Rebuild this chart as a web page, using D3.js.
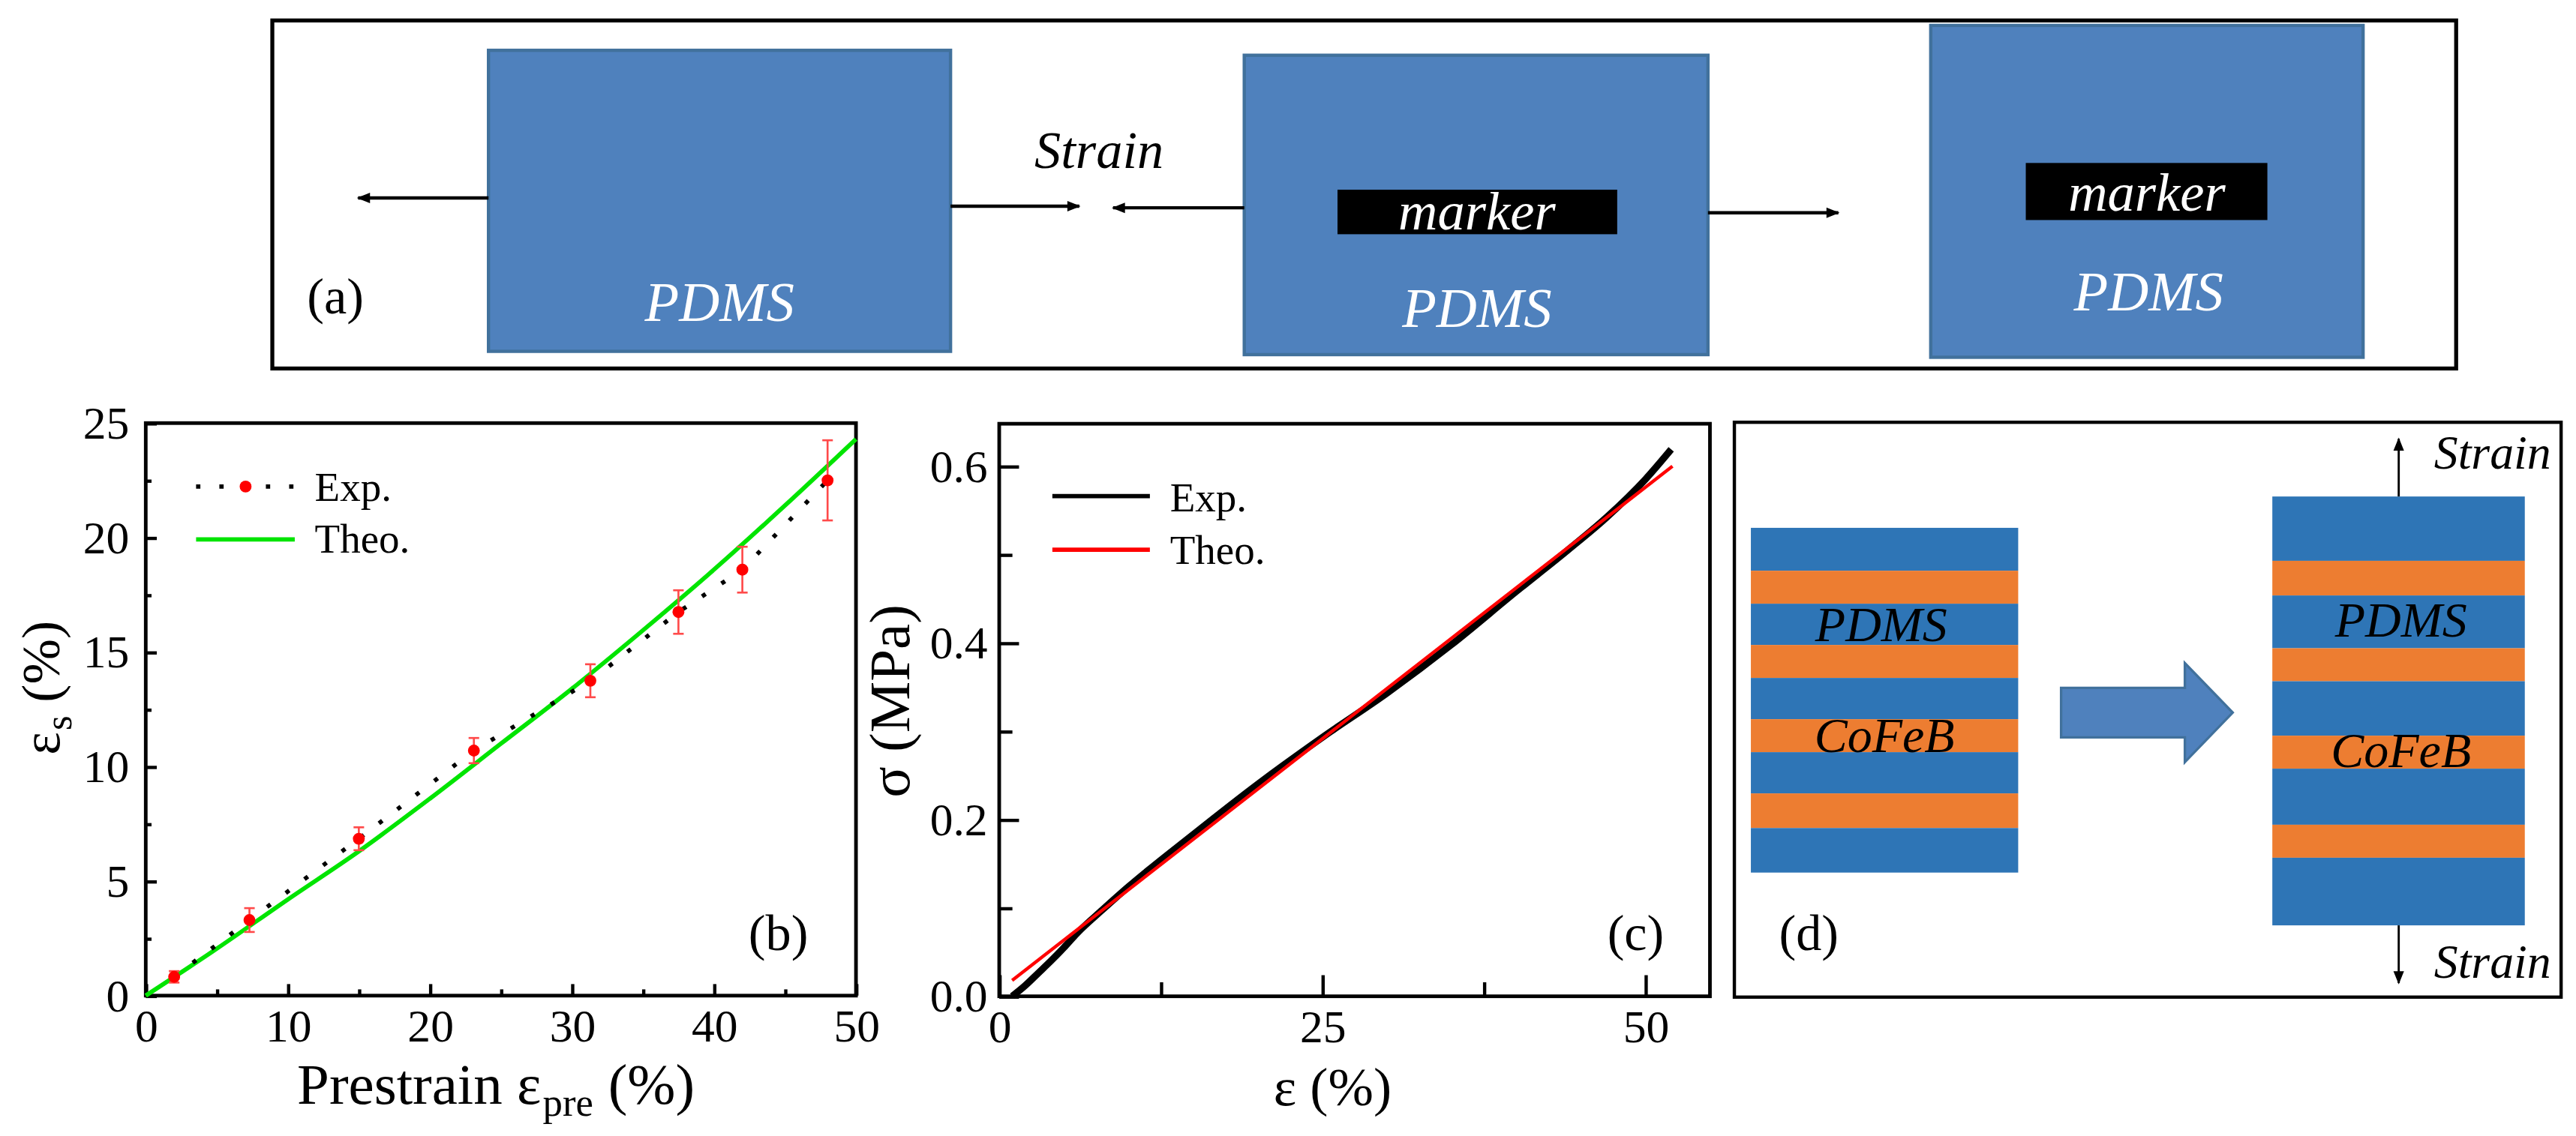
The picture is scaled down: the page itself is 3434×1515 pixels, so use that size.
<!DOCTYPE html>
<html>
<head>
<meta charset="utf-8">
<script src="https://cdn.jsdelivr.net/npm/d3@7/dist/d3.min.js"></script>
<style>
body { margin: 0; background: #fff; }
svg text { font-family: "Liberation Serif", "Times New Roman", Times, "DejaVu Serif", serif; }
</style>
</head>
<body>
<div id="graph"></div>
<script>
// (b) film strain vs prestrain
var expPre = [2, 7.3, 15, 23.1, 31.3, 37.5, 42, 48];
var expEps = [0.82, 3.3, 6.85, 10.7, 13.75, 16.75, 18.6, 22.5];
var expErr = [0.25, 0.52, 0.5, 0.55, 0.72, 0.95, 1.0, 1.75];
var theoPre = [0, 5, 10, 15, 20, 25, 30, 35, 40, 45, 50];
var theoEps = [0, 2.05, 4.2, 6.3, 8.6, 11.0, 13.4, 15.95, 18.6, 21.4, 24.3];
var bTicksX = [0, 10, 20, 30, 40, 50];
var bMinorX = [5, 15, 25, 35, 45];
var bTicksY = [0, 5, 10, 15, 20, 25];
var bMinorY = [2.5, 7.5, 12.5, 17.5, 22.5];

// (c) stress - strain of PDMS
var expStrain = [1, 2, 3, 4, 5, 6, 8, 10, 15, 20, 25, 30, 35, 40, 44, 47, 50, 52];
var expStress = [0, 0.012, 0.026, 0.04, 0.055, 0.071, 0.098, 0.124, 0.183, 0.24, 0.293, 0.343, 0.398, 0.458, 0.505, 0.542, 0.585, 0.619];
var theoStrain = [1, 52.1];
var theoStress = [0.018, 0.6];
var cTicksX = [0, 25, 50];
var cMinorX = [12.5, 37.5];
var cTicksY = [0.0, 0.2, 0.4, 0.6];
var cMinorY = [0.1, 0.3, 0.5];

var W = 1561, H = 688.7;
var serif = "Liberation Serif, Times New Roman, Times, DejaVu Serif, serif";
var blockFill = "#4F81BD", blockLine = "#41719C";
var pdmsBlue = "#2E75B6", cofeb = "#ED7D31";

var svg = d3.select("#graph")
	.append("svg")
	.attr("width", 3434)
	.attr("height", 1515)
	.attr("viewBox", "0 0 " + W + " " + H);

var defs = svg.append("defs");
defs.append("marker")
	.attr("id", "head")
	.attr("viewBox", "0 0 10 10")
	.attr("refX", 9)
	.attr("refY", 5)
	.attr("markerWidth", 9)
	.attr("markerHeight", 8)
	.attr("markerUnits", "userSpaceOnUse")
	.attr("orient", "auto")
	.append("path")
	.attr("d", "M0,1 L10,5 L0,9 Z")
	.attr("fill", "black");

function arrow(x1, y1, x2, y2, sw) {
	svg.append("line")
		.attr("x1", x1).attr("y1", y1)
		.attr("x2", x2).attr("y2", y2)
		.attr("stroke", "black")
		.attr("stroke-width", sw)
		.attr("marker-end", "url(#head)");
}

function label(txt, x, y, size, opts) {
	opts = opts || {};
	return svg.append("text")
		.text(txt)
		.attr("x", x)
		.attr("y", y)
		.attr("font-family", serif)
		.attr("font-size", size)
		.attr("font-style", opts.italic ? "italic" : "normal")
		.attr("fill", opts.fill || "black")
		.attr("text-anchor", opts.anchor || "start");
}

// axis title built from pieces (for subscripts), centred on 0 inside a group
function title(transform, parts) {
	var g = svg.append("g");
	var inner = g.append("g");
	var cur = 0;
	parts.forEach(function(p) {
		var t = inner.append("text")
			.text(p.t)
			.attr("x", cur)
			.attr("y", p.dy || 0)
			.attr("font-family", serif)
			.attr("font-size", p.size);
		cur += t.node().getComputedTextLength() + (p.gap || 1);
	});
	inner.attr("transform", "translate(" + (-cur / 2) + ",0)");
	g.attr("transform", transform);
}

/* ---------- panel (a) ---------- */
svg.append("rect")
	.attr("x", 165).attr("y", 12.4)
	.attr("width", 1323.4).attr("height", 211)
	.attr("fill", "none")
	.attr("stroke", "black")
	.attr("stroke-width", 2.4);

var blocks = [
	{x: 296, y: 30.5, w: 280, h: 182.5},
	{x: 754, y: 33.5, w: 281, h: 181.5},
	{x: 1170, y: 15.4, w: 262, h: 201.2}
];
blocks.forEach(function(b) {
	svg.append("rect")
		.attr("x", b.x).attr("y", b.y)
		.attr("width", b.w).attr("height", b.h)
		.attr("fill", blockFill)
		.attr("stroke", blockLine)
		.attr("stroke-width", 2);
});

arrow(296, 120, 217, 120, 2);
arrow(576, 125, 654, 125, 2);
arrow(754, 126, 674.5, 126, 2);
arrow(1035, 129, 1114, 129, 2);
label("Strain", 666, 102, 32, {italic: true, anchor: "middle"});

svg.append("rect").attr("x", 810.5).attr("y", 115).attr("width", 169.5).attr("height", 27).attr("fill", "black");
svg.append("rect").attr("x", 1227.6).attr("y", 98.8).attr("width", 146.4).attr("height", 34.6).attr("fill", "black");
label("marker", 895, 139, 33, {italic: true, anchor: "middle", fill: "white"});
label("marker", 1301, 127.8, 33, {italic: true, anchor: "middle", fill: "white"});

label("PDMS", 436, 194.5, 34, {italic: true, anchor: "middle", fill: "white"});
label("PDMS", 895, 198, 34, {italic: true, anchor: "middle", fill: "white"});
label("PDMS", 1302, 188, 34, {italic: true, anchor: "middle", fill: "white"});
label("(a)", 186, 190, 31);

/* ---------- panel (b) ---------- */
var xb = d3.scaleLinear().domain([0, 50]).range([88.3, 518.7]);
var yb = d3.scaleLinear().domain([0, 25]).range([603.6, 256.5]);

function styleAxis(g) {
	g.select(".domain").remove();
	g.attr("font-family", serif).attr("font-size", 28);
	g.selectAll("line").attr("stroke", "black").attr("stroke-width", 2);
	g.selectAll("text").attr("fill", "black");
}

svg.append("g")
	.attr("transform", "translate(0," + yb(0) + ")")
	.call(d3.axisBottom(xb).tickValues(bTicksX).tickSize(-7).tickSizeOuter(0).tickPadding(8))
	.call(styleAxis);
svg.append("g")
	.attr("transform", "translate(0," + yb(0) + ")")
	.call(d3.axisBottom(xb).tickValues(bMinorX).tickSize(-3.8).tickSizeOuter(0).tickFormat(""))
	.call(styleAxis);
svg.append("g")
	.attr("transform", "translate(" + xb(0) + ",0)")
	.call(d3.axisLeft(yb).tickValues(bTicksY).tickSize(-6.7).tickSizeOuter(0).tickPadding(10))
	.call(styleAxis);
svg.append("g")
	.attr("transform", "translate(" + xb(0) + ",0)")
	.call(d3.axisLeft(yb).tickValues(bMinorY).tickSize(-3.5).tickSizeOuter(0).tickFormat(""))
	.call(styleAxis);

svg.append("rect")
	.attr("x", xb(0)).attr("y", yb(25))
	.attr("width", xb(50) - xb(0)).attr("height", yb(0) - yb(25))
	.attr("fill", "none")
	.attr("stroke", "black")
	.attr("stroke-width", 2.2);

var theoLine = d3.line()
	.x(function(d, i) { return xb(theoPre[i]); })
	.y(function(d, i) { return yb(theoEps[i]); })
	.curve(d3.curveMonotoneX);
svg.append("path")
	.attr("d", theoLine(theoPre))
	.attr("fill", "none")
	.attr("stroke", "#00e400")
	.attr("stroke-width", 2.6);

var expLine = d3.line()
	.x(function(d, i) { return xb(expPre[i]); })
	.y(function(d, i) { return yb(expEps[i]); });
svg.append("path")
	.attr("d", expLine(expPre))
	.attr("fill", "none")
	.attr("stroke", "black")
	.attr("stroke-width", 2.6)
	.attr("stroke-dasharray", "2.6,11.5");

var pts = svg.append("g");
expPre.forEach(function(p, i) {
	var x = xb(p), y1 = yb(expEps[i] - expErr[i]), y2 = yb(expEps[i] + expErr[i]);
	pts.append("line").attr("x1", x).attr("x2", x).attr("y1", y1).attr("y2", y2)
		.attr("stroke", "#ff4a4a").attr("stroke-width", 1.2);
	[y1, y2].forEach(function(yy) {
		pts.append("line").attr("x1", x - 3.2).attr("x2", x + 3.2).attr("y1", yy).attr("y2", yy)
			.attr("stroke", "#ff4a4a").attr("stroke-width", 1.2);
	});
	pts.append("circle")
		.attr("cx", x)
		.attr("cy", yb(expEps[i]))
		.attr("r", 3.6)
		.attr("fill", "red");
});

// legend (b)
svg.append("line").attr("x1", 118.8).attr("x2", 178.6).attr("y1", 295).attr("y2", 295)
	.attr("stroke", "black").attr("stroke-width", 2.6).attr("stroke-dasharray", "2.6,11.5");
svg.append("circle").attr("cx", 148.8).attr("cy", 295).attr("r", 3.6).attr("fill", "red");
label("Exp.", 190.7, 303.8, 25);
svg.append("line").attr("x1", 118.8).attr("x2", 178.6).attr("y1", 327).attr("y2", 327)
	.attr("stroke", "#00e400").attr("stroke-width", 2.6);
label("Theo.", 190.7, 335, 25);
label("(b)", 453.6, 576, 31);

title("translate(301,669)", [
	{t: "Prestrain \u03b5", size: 35},
	{t: "pre", size: 24, dy: 7.5, gap: 9},
	{t: "(%)", size: 35}
]);
title("translate(36,416.5) rotate(-90)", [
	{t: "\u03b5", size: 33},
	{t: "s", size: 23, dy: 7, gap: 8},
	{t: "(%)", size: 33}
]);

/* ---------- panel (c) ---------- */
var xc = d3.scaleLinear().domain([0, 55]).range([605.5, 1036.2]);
var yc = d3.scaleLinear().domain([0, 0.648]).range([604, 256.9]);

svg.append("g")
	.attr("transform", "translate(0," + yc(0) + ")")
	.call(d3.axisBottom(xc).tickValues(cTicksX).tickSize(-12.8).tickSizeOuter(0).tickPadding(8))
	.call(styleAxis);
svg.append("g")
	.attr("transform", "translate(0," + yc(0) + ")")
	.call(d3.axisBottom(xc).tickValues(cMinorX).tickSize(-8.5).tickSizeOuter(0).tickFormat(""))
	.call(styleAxis);
svg.append("g")
	.attr("transform", "translate(" + xc(0) + ",0)")
	.call(d3.axisLeft(yc).tickValues(cTicksY).tickSize(-12).tickSizeOuter(0).tickPadding(7).tickFormat(d3.format(".1f")))
	.call(styleAxis);
svg.append("g")
	.attr("transform", "translate(" + xc(0) + ",0)")
	.call(d3.axisLeft(yc).tickValues(cMinorY).tickSize(-8).tickSizeOuter(0).tickFormat(""))
	.call(styleAxis);

svg.append("rect")
	.attr("x", xc(0)).attr("y", yc(0.648))
	.attr("width", xc(55) - xc(0)).attr("height", yc(0) - yc(0.648))
	.attr("fill", "none")
	.attr("stroke", "black")
	.attr("stroke-width", 2.2);

var ssLine = d3.line()
	.x(function(d, i) { return xc(expStrain[i]); })
	.y(function(d, i) { return yc(expStress[i]); })
	.curve(d3.curveMonotoneX);
svg.append("path")
	.attr("d", ssLine(expStrain))
	.attr("fill", "none")
	.attr("stroke", "black")
	.attr("stroke-width", 4.2);

var ssTheo = d3.line()
	.x(function(d, i) { return xc(theoStrain[i]); })
	.y(function(d, i) { return yc(theoStress[i]); });
svg.append("path")
	.attr("d", ssTheo(theoStrain))
	.attr("fill", "none")
	.attr("stroke", "red")
	.attr("stroke-width", 2);

// legend (c)
svg.append("line").attr("x1", 637.7).attr("x2", 696.8).attr("y1", 300.8).attr("y2", 300.8)
	.attr("stroke", "black").attr("stroke-width", 2.6);
label("Exp.", 709, 309.9, 25);
svg.append("line").attr("x1", 637.7).attr("x2", 696.8).attr("y1", 333.3).attr("y2", 333.3)
	.attr("stroke", "red").attr("stroke-width", 2.6);
label("Theo.", 709, 341.7, 25);
label("(c)", 974, 576, 31);

label("\u03b5 (%)", 807.5, 670, 33, {anchor: "middle"});
svg.append("text")
	.attr("transform", "translate(551,425) rotate(-90)")
	.attr("font-family", serif)
	.attr("font-size", 35)
	.attr("text-anchor", "middle")
	.text("\u03c3 (MPa)");

/* ---------- panel (d) ---------- */
svg.append("rect")
	.attr("x", 1051).attr("y", 256)
	.attr("width", 501).attr("height", 348.5)
	.attr("fill", "none")
	.attr("stroke", "black")
	.attr("stroke-width", 2);

function stack(x, w, edges) {
	for (var k = 0; k < edges.length - 1; k++) {
		svg.append("rect")
			.attr("x", x).attr("y", edges[k])
			.attr("width", w).attr("height", edges[k + 1] - edges[k])
			.attr("fill", k % 2 == 0 ? pdmsBlue : cofeb);
	}
}
stack(1061, 162, [320, 346, 366, 391, 411, 436, 456, 481, 502, 529]);
stack(1377, 153, [301, 340, 361, 393, 413, 446, 466, 500, 520, 561]);

label("PDMS", 1140, 388.6, 30, {italic: true, anchor: "middle"});
label("CoFeB", 1142, 456, 30, {italic: true, anchor: "middle"});
label("PDMS", 1455, 386, 30, {italic: true, anchor: "middle"});
label("CoFeB", 1455, 465, 30, {italic: true, anchor: "middle"});

svg.append("path")
	.attr("d", "M1249,417 L1324,417 L1324,402 L1353,432 L1324,462 L1324,447 L1249,447 Z")
	.attr("fill", blockFill)
	.attr("stroke", blockLine)
	.attr("stroke-width", 1.5);

arrow(1453.6, 301, 1453.6, 266, 1.3);
arrow(1453.6, 561, 1453.6, 596, 1.3);
label("Strain", 1475, 284, 29, {italic: true});
label("Strain", 1475, 593, 29, {italic: true});
label("(d)", 1078, 576, 31);
</script>
</body>
</html>
